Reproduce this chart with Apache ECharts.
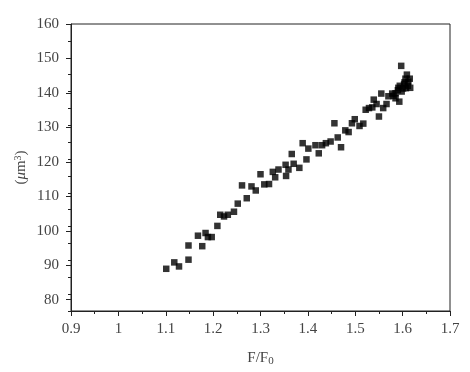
<!DOCTYPE html>
<html><head><meta charset="utf-8">
<script src="https://cdn.jsdelivr.net/npm/echarts@6/dist/echarts.min.js"></script>
<style>html,body{margin:0;padding:0;background:#fff}#c{width:470px;height:372px}</style>
</head><body><div id="c"></div>
<script>
const xTicks = [0.9, 1.0, 1.1, 1.2, 1.3, 1.4, 1.5, 1.6, 1.7];
const yTicks = [80, 90, 100, 110, 120, 130, 140, 150, 160];
const ratio = [1.101,1.118,1.128,1.148,1.148,1.168,1.177,1.184,1.189,1.197,1.209,1.215,1.223,1.231,1.244,1.252,1.261,1.271,1.281,1.290,1.300,1.308,1.318,1.326,1.331,1.338,1.353,1.354,1.359,1.366,1.370,1.382,1.389,1.397,1.401,1.416,1.423,1.430,1.438,1.448,1.456,1.463,1.470,1.479,1.486,1.493,1.499,1.509,1.517,1.522,1.529,1.536,1.539,1.545,1.550,1.555,1.559,1.566,1.570,1.578,1.581,1.585,1.590,1.593,1.597,1.594,1.601,1.604,1.606,1.609,1.611,1.615,1.616,1.585,1.598,1.607,1.603,1.612,1.591];
const volume = [87.5,89.4,88.2,94.4,90.2,97.3,94.2,98.1,96.9,96.9,100.2,103.5,103.0,103.5,104.4,106.8,112.2,108.4,111.9,110.7,115.5,112.5,112.6,116.2,114.6,116.9,118.3,115.0,116.9,121.5,118.6,117.4,124.7,119.9,123.1,124.1,121.7,124.1,124.7,125.2,130.6,126.4,123.5,128.5,128.0,130.6,131.8,129.8,130.5,134.6,135.1,135.3,137.6,136.3,132.6,139.4,135.1,136.3,138.6,139.4,138.7,138.0,140.4,137.0,147.6,141.7,140.9,142.7,143.8,145.0,141.7,143.8,141.1,139.5,140.0,141.0,142.1,142.9,141.1];
const points = ratio.map((r, i) => [r, volume[i]]);

const serif = '"Liberation Serif", "DejaVu Serif", serif';
const lineCol = '#222';
const textCol = '#444';
const chart = echarts.init(document.getElementById('c'), null, {renderer: 'canvas'});
chart.setOption({
  animation: false,
  backgroundColor: '#fff',
  grid: [
    {left: 71, right: 20, top: 24, bottom: 55, show: true, borderColor: lineCol, borderWidth: 1},
    {left: 71, right: 20, top: 24, bottom: 72.3, show: false}
  ],
  xAxis: [
    {type: 'value', gridIndex: 0, min: xTicks[0], max: xTicks[xTicks.length - 1], interval: 0.1,
     axisLine: {show: true, lineStyle: {color: lineCol, width: 1}},
     axisTick: {show: true, inside: false, length: 5, lineStyle: {color: lineCol}},
     minorTick: {show: true, splitNumber: 2, length: 3, lineStyle: {color: lineCol}},
     splitLine: {show: false},
     axisLabel: {color: textCol, fontFamily: serif, fontSize: 15, margin: 11,
       formatter: v => { const r = Math.round(v * 10) / 10; return r === 1 ? '1' : r.toFixed(1); }},
     name: 'F/F{sub|0}', nameLocation: 'middle', nameGap: 39,
     nameTextStyle: {color: textCol, fontFamily: serif, fontSize: 15,
       rich: {sub: {fontFamily: serif, fontSize: 11, color: textCol, verticalAlign: 'bottom', padding: [6, 0, 0, 0]}}}},
    {type: 'value', gridIndex: 1, min: 0.9, max: 1.7, show: false}
  ],
  yAxis: [
    {type: 'value', gridIndex: 0, min: 75, max: 160, interval: 5,
     axisLine: {show: true, lineStyle: {color: lineCol, width: 1}},
     axisTick: {show: true, inside: false, length: 3, lineStyle: {color: lineCol}},
     splitLine: {show: false}, axisLabel: {show: false},
     name: '({i|μ}m{sup|3})', nameLocation: 'middle', nameGap: 42, nameRotate: 90,
     nameTextStyle: {color: textCol, fontFamily: serif, fontSize: 15,
       rich: {i: {fontFamily: serif, fontSize: 15, fontStyle: 'italic', color: textCol},
              sup: {fontFamily: serif, fontSize: 10, color: textCol, verticalAlign: 'top', padding: [0, 0, 6, 0]}}}},
    {type: 'value', gridIndex: 1, min: yTicks[0], max: yTicks[yTicks.length - 1], interval: 10,
     axisLine: {show: false},
     axisTick: {show: true, inside: false, length: 5, lineStyle: {color: lineCol}},
     splitLine: {show: false},
     axisLabel: {color: textCol, fontFamily: serif, fontSize: 15, margin: 12}}
  ],
  series: [{
    type: 'scatter', xAxisIndex: 0, yAxisIndex: 0, data: points,
    symbol: 'rect', symbolSize: 6.5,
    itemStyle: {color: '#000'}
  }]
});
</script></body></html>
